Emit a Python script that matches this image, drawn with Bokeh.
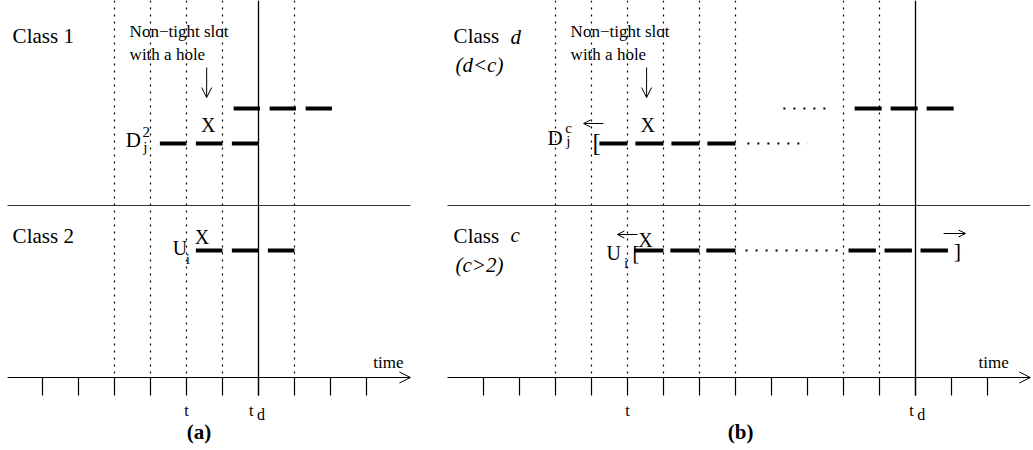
from bokeh.plotting import figure
from bokeh.models import Range1d, Arrow, OpenHead
from bokeh.layouts import row
from bokeh.core.properties import value
from bokeh.embed import file_html
from bokeh.resources import INLINE

# ---------------- data (slot indices on the time axis) ----------------
A_TICKS = list(range(1, 11))
A_DOTTED = [3, 4, 5, 6, 8]
A_T, A_TD = 5, 7
A_CLASS1_LOW = [4, 5, 6]
A_CLASS1_UP = [6, 7, 8]
A_CLASS2 = [5, 6, 7]
A_HOLE = 5

B_TICKS = list(range(0, 15))
B_DOTTED = [2, 3, 4, 5, 6, 7, 10, 11]
B_T, B_TD = 4, 12
B_CLASSD_LOW = [3, 4, 5, 6]
B_CLASSD_LOW_DOTS = (7.33, 9.0)
B_CLASSD_UP_DOTS = (8.33, 9.72)
B_CLASSD_UP = [10, 11, 12]
B_CLASSC_A = [4, 5, 6]
B_CLASSC_DOTS = (7.28, 9.86)
B_CLASSC_B = [10, 11, 12]
B_HOLE = 4

# ---------------- layout ----------------
SLOT = 36.0
H = 450
TOP = 0
AXIS_Y = 377
TICK_Y = 395
SEP_Y = 205
UP_Y = 108
LOW_Y = 143
C2_Y = 250
SMALL = 15
SERIF = value("Liberation Serif")


def make_fig(width, origin_px, left_px):
    x0 = (left_px - origin_px) / SLOT
    x1 = (left_px + width - origin_px) / SLOT
    p = figure(width=width, height=H, output_backend="svg", toolbar_location=None,
               x_range=Range1d(x0, x1), y_range=Range1d(TOP + H, TOP),
               x_axis_type=None, y_axis_type=None, min_border=0,
               outline_line_color=None)
    p.grid.visible = False
    return p


def label(p, x, y, s, size=18, align="left", style="normal"):
    p.text(x=[x], y=[y], text=[s], text_font=SERIF, text_font_size=f"{size}px",
           text_align=align, text_baseline="middle", text_font_style=style,
           text_color="black")


def dashes(p, slots, y, s_off=0.26, e_off=1.0):
    p.segment(x0=[s + s_off for s in slots], y0=[y] * len(slots),
              x1=[s + e_off for s in slots], y1=[y] * len(slots),
              line_width=4, line_color="black", line_cap="butt")


def dots(p, span, y):
    p.segment(x0=[span[0]], y0=[y], x1=[span[1]], y1=[y], line_width=2,
              line_color="black", line_dash="2 8", line_cap="butt")


def arrow(p, xs, ys, xe, ye, size=8):
    p.add_layout(Arrow(x_start=xs, y_start=ys, x_end=xe, y_end=ye, line_width=1,
                       line_color="black",
                       end=OpenHead(size=size, line_width=1, line_color="black")))


def frame(p, ticks, dotted, td, x_start, x_end):
    p.segment(x0=dotted, y0=[TOP] * len(dotted), x1=dotted, y1=[AXIS_Y] * len(dotted),
              line_width=1.2, line_color="black", line_dash="2 5")
    p.segment(x0=[td], y0=[TOP], x1=[td], y1=[TICK_Y], line_width=1.3, line_color="black")
    p.segment(x0=[x_start], y0=[SEP_Y], x1=[x_end], y1=[SEP_Y], line_width=1.2,
              line_color="#333333")
    p.segment(x0=ticks, y0=[AXIS_Y] * len(ticks), x1=ticks, y1=[TICK_Y] * len(ticks),
              line_width=1.2, line_color="black")
    arrow(p, x_start, AXIS_Y, x_end, AXIS_Y, size=11)


# ---------------- panel (a) ----------------
pa = make_fig(438, 6, 0)
frame(pa, A_TICKS, A_DOTTED, A_TD, 0.03, 11.22)
dashes(pa, A_CLASS1_LOW, LOW_Y)
dashes(pa, A_CLASS1_UP, UP_Y, 0.31, 1.04)
dashes(pa, A_CLASS2, C2_Y)
label(pa, 0.17, 35, "Class 1", 21)
label(pa, 3.42, 31, "Non\u2212tight slot", 17)
label(pa, 3.42, 54, "with a hole", 17)
arrow(pa, A_HOLE + 0.56, 67, A_HOLE + 0.56, 97, size=10)
label(pa, A_HOLE + 0.6, 124, "X", 20, align="center")
label(pa, 3.31, 139, "D", 21)
label(pa, 3.78, 131, "2", SMALL)
label(pa, 3.8, 146, "j", SMALL)
label(pa, 0.17, 235, "Class 2", 21)
label(pa, 4.62, 247, "U", 20)
label(pa, 4.98, 258, "i", SMALL)
label(pa, A_HOLE + 0.43, 236, "X", 20, align="center")
label(pa, 10.19, 362, "time", 17)
label(pa, A_T, 410, "t", 16, align="center")
label(pa, A_TD - 0.2, 410, "t", 16, align="center")
label(pa, A_TD - 0.04, 414, "d", 16)
label(pa, 5.35, 431, "(a)", 21, align="center", style="bold")

# ---------------- panel (b) ----------------
pb = make_fig(595, 483, 438)
frame(pb, B_TICKS, B_DOTTED, B_TD, -1.0, 15.19)
dashes(pb, B_CLASSD_LOW, LOW_Y, 0.22, 1.0)
dots(pb, B_CLASSD_LOW_DOTS, LOW_Y)
dots(pb, B_CLASSD_UP_DOTS, UP_Y)
dashes(pb, B_CLASSD_UP, UP_Y, 0.31, 1.06)
dashes(pb, B_CLASSC_A, C2_Y, 0.19, 1.0)
dots(pb, B_CLASSC_DOTS, C2_Y)
dashes(pb, B_CLASSC_B, C2_Y, 0.14, 0.9)
label(pb, -0.83, 35, "Class", 21)
label(pb, 0.75, 36, "d", 21, style="italic")
label(pb, -0.78, 64, "(d<c)", 21, style="italic")
label(pb, 2.42, 31, "Non\u2212tight slot", 17)
label(pb, 2.42, 54, "with a hole", 17)
arrow(pb, B_HOLE + 0.53, 67, B_HOLE + 0.53, 97, size=10)
label(pb, B_HOLE + 0.56, 124, "X", 20, align="center")
arrow(pb, 3.33, 123, 2.78, 123, size=7)
label(pb, 1.78, 137, "D", 21)
label(pb, 2.27, 127, "c", SMALL)
label(pb, 2.3, 140, "j", SMALL)
label(pb, 3.03, 142, "[", 25)
label(pb, -0.83, 235, "Class", 21)
label(pb, 0.75, 234, "c", 21, style="italic")
label(pb, -0.78, 264, "(c>2)", 21, style="italic")
label(pb, 3.42, 252, "U", 20)
label(pb, 3.9, 262, "i", SMALL)
label(pb, 4.14, 252, "[", 20)
arrow(pb, 4.28, 234, 3.72, 234, size=7)
label(pb, B_HOLE + 0.5, 239, "X", 20, align="center")
label(pb, 13.06, 250, "]", 22)
arrow(pb, 12.78, 233, 13.39, 233, size=7)
label(pb, 13.75, 362, "time", 17)
label(pb, B_T, 410, "t", 16, align="center")
label(pb, B_TD - 0.11, 410, "t", 16, align="center")
label(pb, B_TD + 0.05, 414, "d", 16)
label(pb, 7.14, 431, "(b)", 21, align="center", style="bold")

layout = row(pa, pb)
open("out.html", "w").write(file_html(layout, INLINE))
